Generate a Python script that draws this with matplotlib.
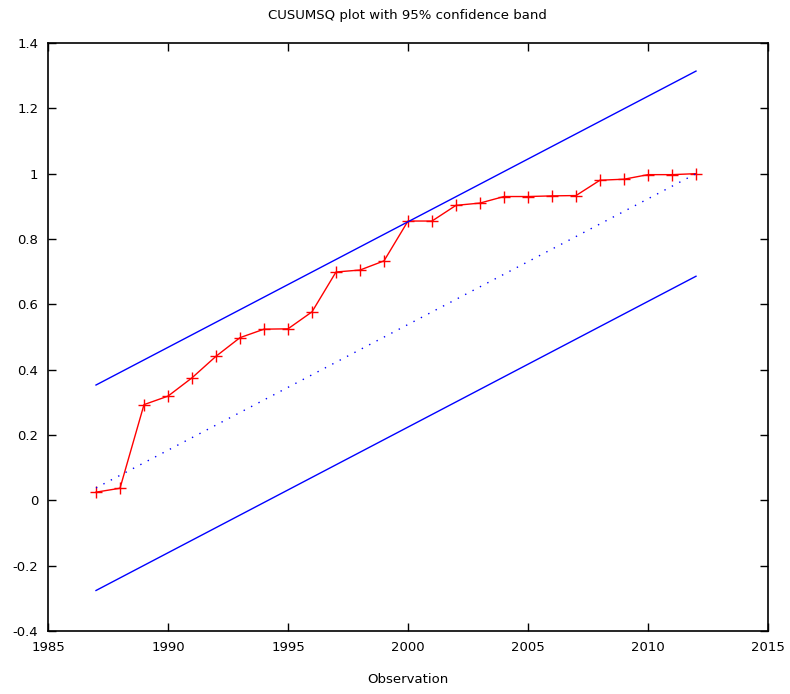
import matplotlib
matplotlib.use("Agg")
import matplotlib.pyplot as plt
from matplotlib.ticker import FuncFormatter

# CUSUMSQ values
years = list(range(1987, 2013))
cusumsq = [0.025, 0.037, 0.293, 0.319, 0.375, 0.441, 0.498, 0.524, 0.525, 0.577,
           0.699, 0.705, 0.733, 0.855, 0.855, 0.903, 0.910, 0.930, 0.930, 0.932,
           0.933, 0.980, 0.983, 0.997, 0.997, 1.0]

# band lines (straight, so only the end points)
band_x = [1987, 2012]
upper = [0.353, 1.314]
center = [0.038, 1.0]
lower = [-0.276, 0.686]

xticks = [1985, 1990, 1995, 2000, 2005, 2010, 2015]
yticks = [-0.4, -0.2, 0, 0.2, 0.4, 0.6, 0.8, 1, 1.2, 1.4]

fig = plt.figure(figsize=(7.9, 6.94), dpi=100)
ax = fig.add_axes([48 / 790, 1 - 631 / 694, 720 / 790, 588 / 694])

ax.plot(years, cusumsq, color="red", lw=1, marker="+", markersize=8, markeredgewidth=1)
ax.plot(band_x, upper, color="blue", lw=1)
ax.plot(band_x, lower, color="blue", lw=1)
ax.plot(band_x, center, color="blue", lw=1, linestyle=(0, (1, 5)))

ax.set_xlim(1985, 2015)
ax.set_ylim(-0.4, 1.4)
ax.set_xticks(xticks)
ax.set_yticks(yticks)
ax.yaxis.set_major_formatter(FuncFormatter(lambda v, p: ("%g" % round(v, 2))))
ax.tick_params(direction="in", length=6, width=1, top=True, right=True,
               labelsize=9.5, pad=7)
for s in ax.spines.values():
    s.set_linewidth(1.2)

ax.set_xlabel("Observation", fontsize=9.5, labelpad=14)
fig.text(407 / 790, 1 - 16 / 694, "CUSUMSQ plot with 95% confidence band",
         ha="center", va="center", fontsize=9.5)

fig.savefig("out.png", dpi=100)
